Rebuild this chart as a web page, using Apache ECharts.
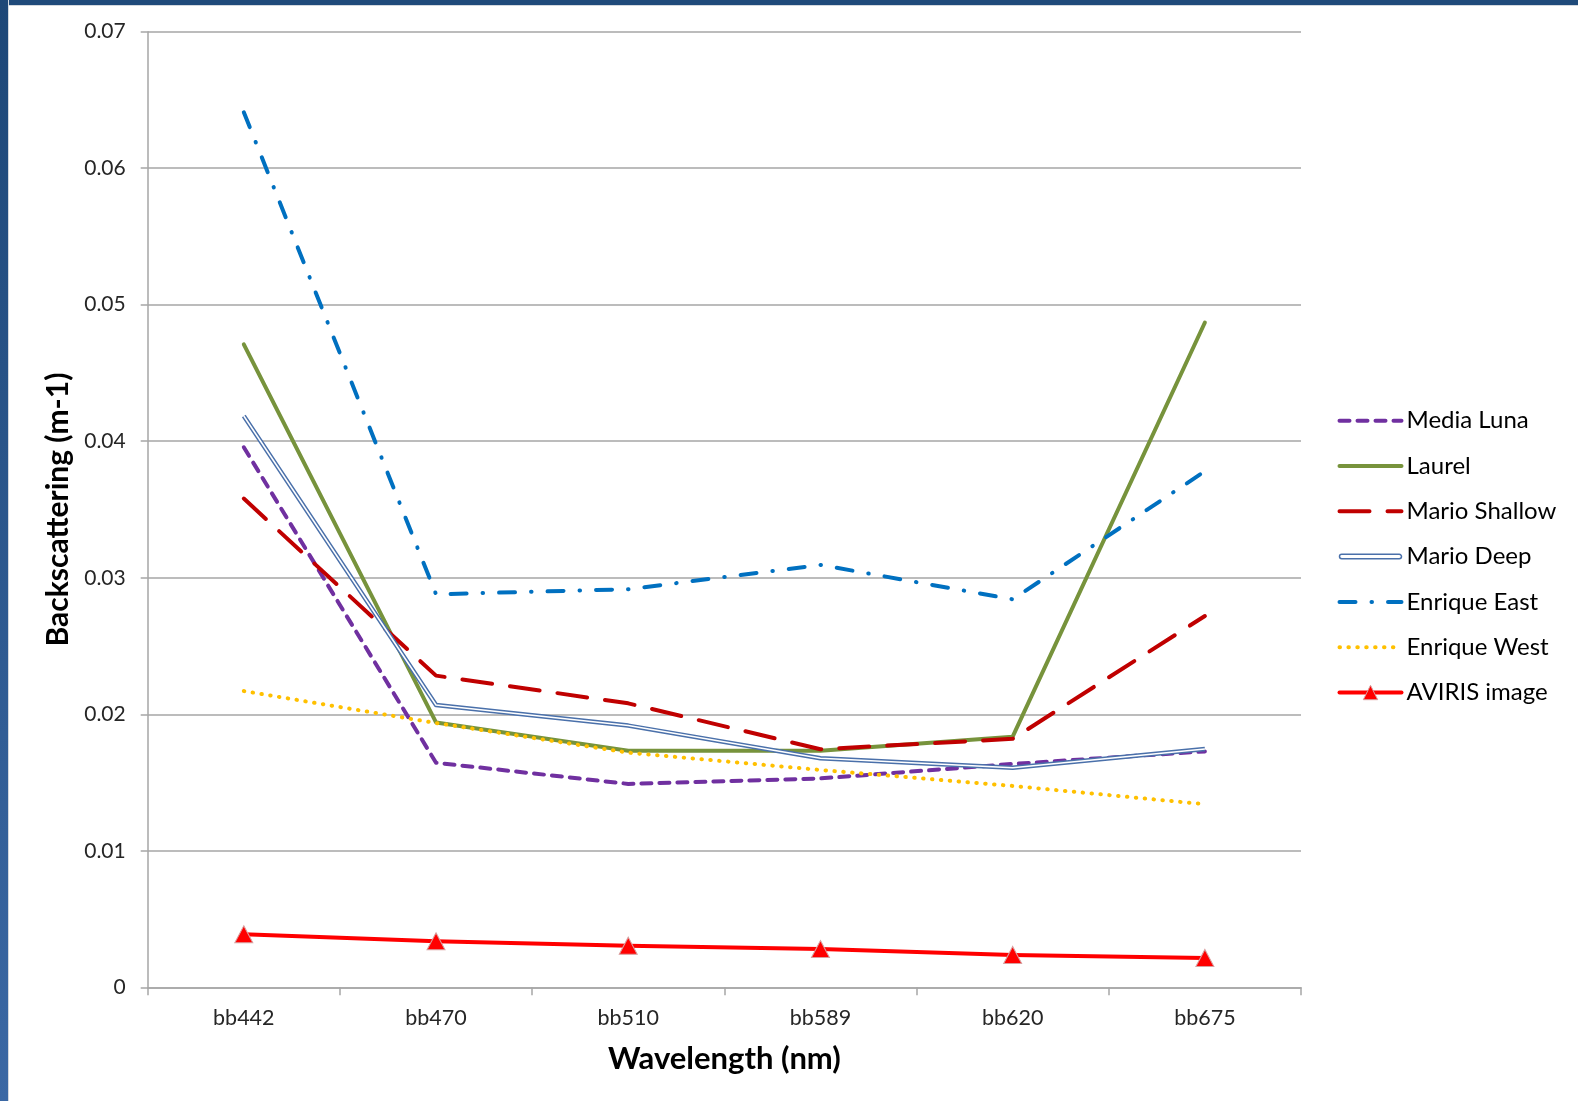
<!DOCTYPE html>
<html>
<head>
<meta charset="utf-8">
<title>Backscattering by wavelength</title>
<script src="https://cdn.jsdelivr.net/npm/echarts@6/dist/echarts.min.js"></script>
<style>
  html, body { margin: 0; padding: 0; background: #fff; }
  #chart { position: absolute; left: 0; top: 0; width: 1578px; height: 1101px; }
  .edge-left { position: absolute; left: 0; top: 0; width: 8px; height: 1101px;
    background: linear-gradient(#1d4777, #3b68a4); border-right: 1px solid #d3d8de; pointer-events: none; }
  .edge-top { position: absolute; left: 0; top: 0; width: 1578px; height: 5px;
    background: #1f4a7a; border-bottom: 1px solid #d3d8de; pointer-events: none; }
</style>
</head>
<body>
<div id="chart"></div>
<div class="edge-top"></div>
<div class="edge-left"></div>
<script>
// Wavelength bands
const categories = ['bb442', 'bb470', 'bb510', 'bb589', 'bb620', 'bb675'];

// Backscattering (m-1) per site
const mediaLuna    = [0.03956, 0.01645, 0.0149, 0.0153, 0.01636, 0.01728];
const laurel       = [0.0471, 0.0194, 0.01733, 0.01733, 0.01836, 0.0487];
const marioShallow = [0.0358, 0.02283, 0.0208, 0.01744, 0.0182, 0.0272];
const marioDeep    = [0.04185, 0.02068, 0.01917, 0.01678, 0.01609, 0.01745];
const enriqueEast  = [0.0641, 0.02879, 0.02916, 0.03094, 0.02842, 0.0378];
const enriqueWest  = [0.0217, 0.01936, 0.01719, 0.01592, 0.01475, 0.01341];
const aviris       = [0.00388, 0.00337, 0.00305, 0.0028, 0.00237, 0.00215];

// Y axis ticks
const yMin = 0, yMax = 0.07, yStep = 0.01;

const FONT = 'Lato, "Open Sans", sans-serif';
const AXIS_GRAY = '#a6a6a6';
const DEEP_BLUE = '#4a70aa';
const LW = 4;

function lineSeries(name, data, color, type, extra) {
  return Object.assign({
    name: name,
    type: 'line',
    data: data,
    symbol: 'none',
    silent: true,
    lineStyle: { color: color, width: LW, type: type, cap: 'round', join: 'round' },
    itemStyle: { color: color }
  }, extra || {});
}

const styles = {
  'Media Luna':    { color: '#7030a0', type: [10, 8] },
  'Laurel':        { color: '#77933c', type: 'solid' },
  'Mario Shallow': { color: '#c00000', type: [30, 18] },
  'Enrique East':  { color: '#0070c0', type: [16, 16, 0.5, 16] },
  'Enrique West':  { color: '#ffc000', type: [0.5, 8.4] },
  'AVIRIS image':  { color: '#ff0000', type: 'solid' }
};

const series = [
  lineSeries('Media Luna', mediaLuna, styles['Media Luna'].color, styles['Media Luna'].type),
  lineSeries('Laurel', laurel, styles['Laurel'].color, styles['Laurel'].type),
  lineSeries('Mario Shallow', marioShallow, styles['Mario Shallow'].color, styles['Mario Shallow'].type),
  lineSeries('Mario Deep', marioDeep, DEEP_BLUE, 'solid', {
    lineStyle: { color: DEEP_BLUE, width: 4.5, type: 'solid', join: 'round' }
  }),
  // inner white stroke that gives Mario Deep its double-line look
  lineSeries('Mario Deep', marioDeep, '#ffffff', 'solid', {
    lineStyle: { color: '#ffffff', width: 1.5, type: 'solid', join: 'round' }
  }),
  lineSeries('Enrique East', enriqueEast, styles['Enrique East'].color, styles['Enrique East'].type),
  lineSeries('Enrique West', enriqueWest, styles['Enrique West'].color, styles['Enrique West'].type),
  lineSeries('AVIRIS image', aviris, styles['AVIRIS image'].color, 'solid', {
    symbol: 'triangle',
    symbolSize: [18, 17],
    itemStyle: { color: '#ff0000', borderColor: '#d8a0a0', borderWidth: 1 }
  })
];

function legendItem(name) {
  const s = styles[name];
  return {
    name: name,
    itemStyle: { opacity: 0 },
    lineStyle: { color: s.color, width: LW, type: s.type, cap: 'round' }
  };
}

const legendData = [
  legendItem('Media Luna'),
  legendItem('Laurel'),
  legendItem('Mario Shallow'),
  { name: 'Mario Deep', icon: 'path://M2,0 L60,0 A2,2 0 0 1 60,4.5 L2,4.5 A2,2 0 0 1 2,0 Z',
    itemStyle: { color: '#ffffff', borderColor: DEEP_BLUE, borderWidth: 1.5 } },
  legendItem('Enrique East'),
  legendItem('Enrique West'),
  { name: 'AVIRIS image',
    itemStyle: { color: '#ff0000', borderColor: '#d8a0a0', borderWidth: 1 },
    lineStyle: { color: '#ff0000', width: LW, type: 'solid' } }
];

const chart = echarts.init(document.getElementById('chart'), null, { renderer: 'canvas' });
chart.setOption({
  animation: false,
  backgroundColor: '#ffffff',
  textStyle: { fontFamily: FONT },
  grid: { left: 147.7, right: 277, top: 31.7, bottom: 113.7, containLabel: false },
  legend: {
    orient: 'vertical',
    left: 1332.5,
    top: 403.7,
    itemWidth: 62,
    itemHeight: 18,
    itemGap: 21.3,
    selectedMode: false,
    data: legendData,
    textStyle: { fontFamily: FONT, fontSize: 24, color: '#000', lineHeight: 24 }
  },
  xAxis: {
    type: 'category',
    data: categories,
    boundaryGap: true,
    name: 'Wavelength (nm)',
    nameLocation: 'middle',
    nameGap: 56,
    nameTextStyle: { fontFamily: FONT, fontSize: 31, fontWeight: 'bold', color: '#000' },
    axisLine: { lineStyle: { color: AXIS_GRAY, width: 1.5 } },
    axisTick: { show: true, length: 8, inside: false, alignWithLabel: false, lineStyle: { color: AXIS_GRAY, width: 1.5 } },
    axisLabel: { fontFamily: FONT, fontSize: 21.5, color: '#262626', margin: 20 },
    splitLine: { show: false }
  },
  yAxis: {
    type: 'value',
    min: yMin,
    max: yMax,
    interval: yStep,
    name: 'Backscattering (m-1)',
    nameLocation: 'middle',
    nameGap: 73,
    nameTextStyle: { fontFamily: FONT, fontSize: 30, fontWeight: 'bold', color: '#000' },
    axisLine: { show: true, lineStyle: { color: AXIS_GRAY, width: 1.5 } },
    axisTick: { show: true, length: 7, lineStyle: { color: AXIS_GRAY, width: 1.5 } },
    axisLabel: { fontFamily: FONT, fontSize: 21, color: '#262626', margin: 22 },
    splitLine: { show: true, lineStyle: { color: AXIS_GRAY, width: 1.5 } }
  },
  series: series
});
</script>
</body>
</html>
